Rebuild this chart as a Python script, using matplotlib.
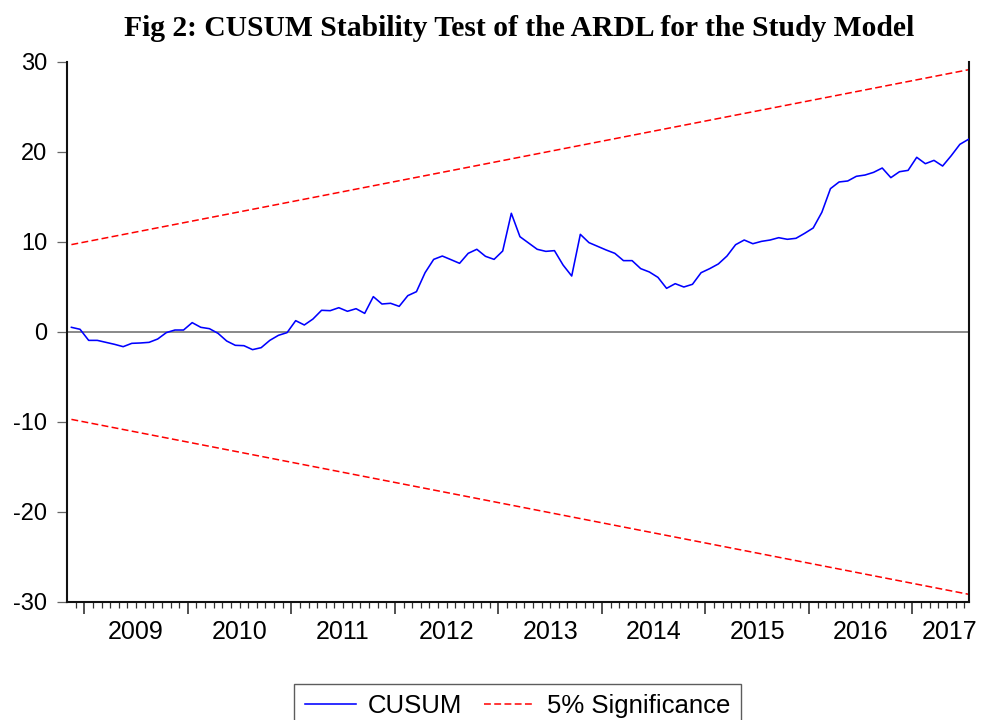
import matplotlib.pyplot as plt
import numpy as np

# monthly sample Nov 2008 - Jul 2017 (105 obs)
cusum = [0.52, 0.30, -0.93, -0.93, -1.15, -1.37, -1.63, -1.26, -1.22, -1.15,
         -0.78, -0.07, 0.22, 0.22, 1.04, 0.52, 0.37, -0.15, -1.00, -1.48,
         -1.52, -1.96, -1.74, -0.93, -0.37, -0.07, 1.26, 0.78, 1.44, 2.41,
         2.37, 2.70, 2.30, 2.59, 2.07, 3.93, 3.11, 3.19, 2.85, 4.04,
         4.48, 6.59, 8.07, 8.44, 8.04, 7.63, 8.74, 9.19, 8.41, 8.07,
         9.00, 13.19, 10.59, 9.89, 9.19, 8.96, 9.04, 7.44, 6.22, 10.85,
         9.93, 9.52, 9.11, 8.74, 7.93, 7.93, 7.04, 6.67, 6.07, 4.85,
         5.37, 5.00, 5.30, 6.59, 7.04, 7.56, 8.44, 9.70, 10.22, 9.81,
         10.07, 10.22, 10.48, 10.30, 10.41, 10.96, 11.56, 13.30, 15.93, 16.67,
         16.78, 17.30, 17.44, 17.74, 18.22, 17.15, 17.81, 17.96, 19.41, 18.70,
         19.07, 18.44, 19.59, 20.85, 21.41]

sig_first = 9.71   # 5% bound at first obs
sig_last = 29.14   # 5% bound at last obs

years = ['2009', '2010', '2011', '2012', '2013', '2014', '2015', '2016', '2017']
first_jan = 2      # obs index of Jan 2009

n = len(cusum)
x = np.arange(n)

plt.rcParams['font.family'] = ['Liberation Sans', 'DejaVu Sans']

fig = plt.figure(figsize=(9.81, 7.2), dpi=100)
ax = fig.add_axes([66.5 / 981, 1 - 602 / 720, (969 - 66.5) / 981, 540 / 720])

ax.axhline(0, color='#6a6a6a', lw=1.1, zorder=1)
ax.plot(x, cusum, color='#0000ff', lw=1.15, label='CUSUM', zorder=3)
ax.plot([x[0], x[-1]], [sig_first, sig_last], color='#ff0000', lw=1.1,
        dashes=(4.5, 2.2), label='5% Significance', zorder=2)
ax.plot([x[0], x[-1]], [-sig_first, -sig_last], color='#ff0000', lw=1.1,
        dashes=(4.5, 2.2), zorder=2)

ax.set_xlim(-0.57, n - 0.94)
ax.set_ylim(-30, 30)

ax.set_yticks([-30, -20, -10, 0, 10, 20, 30])
ax.set_yticklabels(['-30', '-20', '-10', '0', '10', '20', '30'])
ax.tick_params(axis='y', direction='out', length=7.2, width=0.9,
               color='#666666', labelsize=17, pad=6.5)

year_ticks = [first_jan - 0.5 + 12 * k for k in range(len(years))]
ax.set_xticks(year_ticks)
ax.set_xticklabels([])
ax.set_xticks(np.arange(0.5, n - 1, 1.0), minor=True)
ax.tick_params(axis='x', which='major', direction='out', length=8.6,
               width=1.2, color='#333333')
ax.tick_params(axis='x', which='minor', direction='out', length=4.3,
               width=0.9, color='#333333')

xr = ax.get_xlim()[1]
for t, lab in zip(year_ticks, years):
    pos = min(t + 6, xr - 2.2)
    ax.text(pos, -0.056, lab, transform=ax.get_xaxis_transform(),
            ha='center', va='center', fontsize=18)

for side in ['left', 'bottom', 'right']:
    ax.spines[side].set_color('#111111')
    ax.spines[side].set_linewidth(1.5)
ax.spines['top'].set_visible(False)

fig.text(519 / 981, 1 - 28 / 720,
         'Fig 2: CUSUM Stability Test of the ARDL for the Study Model',
         ha='center', va='center', fontsize=21.3, fontweight='bold',
         family=['Liberation Serif', 'DejaVu Serif'])

leg = fig.legend(loc='upper center', bbox_to_anchor=(517.5 / 981, 1 - 684 / 720),
                 ncol=2, fontsize=18.5, handlelength=2.0, handletextpad=0.45,
                 columnspacing=0.85, fancybox=False, frameon=True,
                 borderpad=0.4, borderaxespad=0)
leg.get_frame().set_edgecolor('#333333')
leg.get_frame().set_linewidth(1.0)

fig.savefig('out.png', dpi=100)
